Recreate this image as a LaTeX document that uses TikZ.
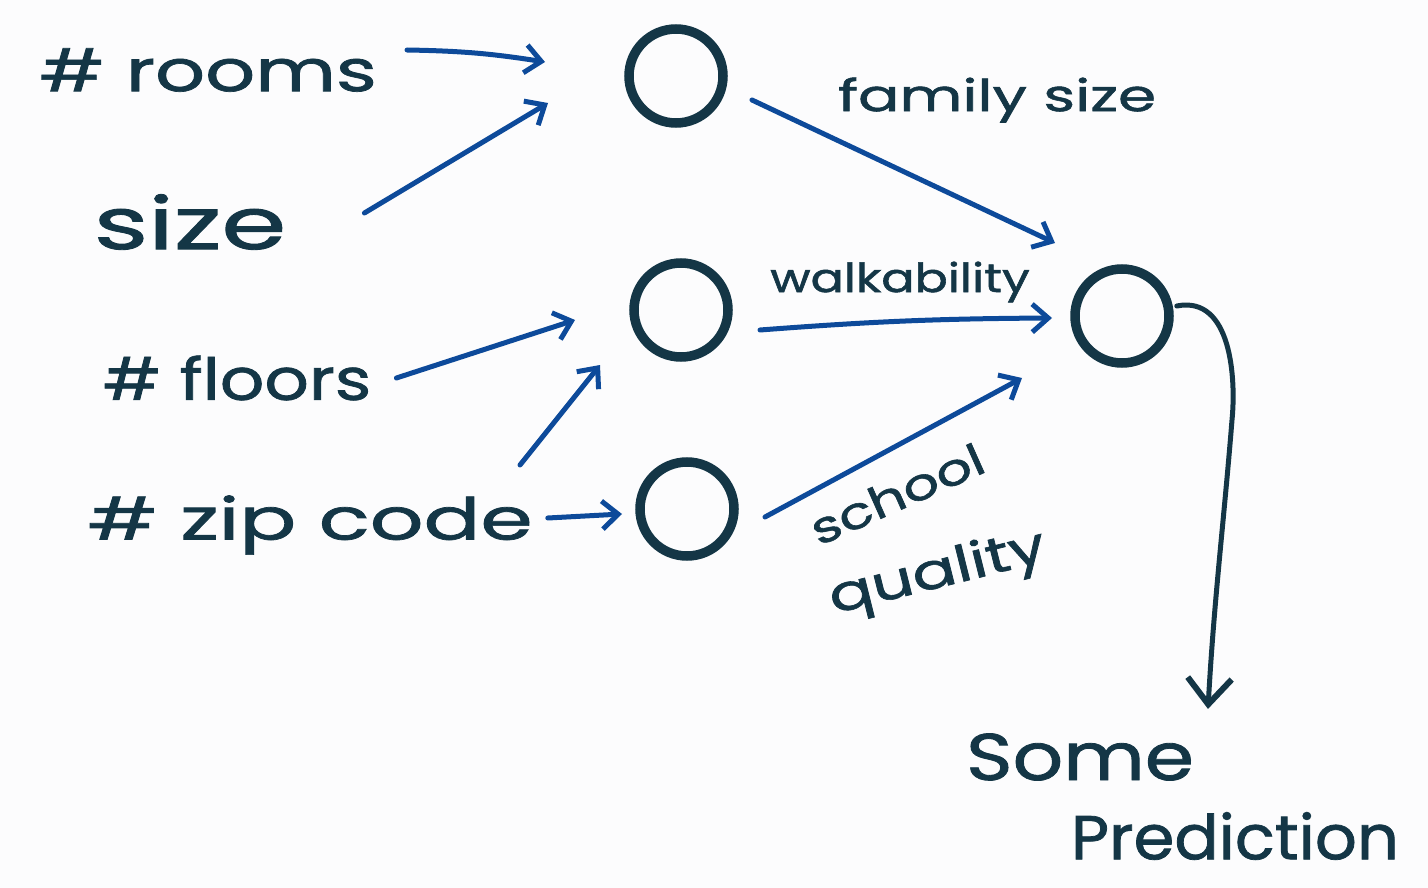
\documentclass[tikz,border=0pt]{standalone}
\usepackage{fontspec}
\setmainfont{Poppins}[FakeBold=1.2]
\usetikzlibrary{arrows.meta}
\definecolor{ink}{HTML}{143646}
\definecolor{pen}{HTML}{0D4A9A}
\definecolor{paper}{HTML}{FCFCFD}
\tikzset{
  hidden/.style={circle, draw=ink, line width=9.5pt, minimum size=94pt, inner sep=0pt},
  lbl/.style={text=ink, inner sep=0pt, font=\fontsize{58}{60}\selectfont},
  elbl/.style={text=ink, inner sep=0pt, font=\fontsize{44}{46}\selectfont},
  arr/.style={draw=pen, line width=5pt, line cap=round, -{Straight Barb[length=16pt,width=28pt,line width=5pt]}},
  outarr/.style={draw=ink, line width=5pt, line cap=round, -{Straight Barb[length=26pt,width=44pt,line width=6pt]}}
}
\begin{document}
\begin{tikzpicture}[x=1pt,y=-1pt]
\fill[paper] (0,0) rectangle (1428,888);
\useasboundingbox (0,0) rectangle (1428,888);

% hidden / output units
\node[hidden] (h1) at (676,76) {};
\node[hidden] (h2) at (681,310) {};
\node[hidden] (h3) at (687,509) {};
\node[hidden] (out) at (1122,316) {};

% input labels
\node[lbl] (rooms) at (208,70) {\scalebox{1.35}[1]{\# rooms}};
\node[lbl, font=\fontsize{72}{74}\selectfont] (size) at (190,222) {\scalebox{1.45}[1]{size}};
\node[lbl] (floors) at (237,378) {\scalebox{1.2}[1]{\# floors}};
\node[lbl] (zip) at (310,525) {\scalebox{1.45}[1]{\# zip code}};

% edge labels
\node[elbl] (fam) at (997,100) {\scalebox{1.39}[1]{family size}};
\node[elbl, font=\fontsize{40}{42}\selectfont] (walk) at (900,282) {\scalebox{1.23}[1]{walkability}};
\node[elbl, rotate=24] (school) at (897,494) {\scalebox{1.28}[1]{school}};
\node[elbl, font=\fontsize{50}{52}\selectfont, rotate=14] (quality) at (938,575) {\scalebox{1.3}[1]{quality}};

% prediction
\node[lbl, font=\fontsize{66}{68}\selectfont] (some) at (1080,757) {\scalebox{1.2}[1]{Some}};
\node[lbl, font=\fontsize{62}{64}\selectfont] (pred) at (1235,836) {\scalebox{1.06}[1]{Prediction}};

% connectors
\draw[arr] ([shift={(30,-20)}]rooms.east) to[bend left=4] ([shift={(-131,-14)}]h1.center);
\draw[arr] ([shift={(78,-9)}]size.east) -- ([shift={(-128,27)}]h1.center);
\draw[arr] ([shift={(76,24)}]h1.center) -- ([shift={(-67,-73)}]out.center);
\draw[arr] ([shift={(25,0)}]floors.east) -- ([shift={(-106,10)}]h2.center);
\draw[arr] ([shift={(210,-60)}]zip.center) -- ([shift={(-81,55)}]h2.center);
\draw[arr] ([shift={(15,-7)}]zip.east) -- ([shift={(-65,5)}]h3.center);
\draw[arr] ([shift={(79,20)}]h2.center) to[bend left=2] ([shift={(-70,2)}]out.center);
\draw[arr] ([shift={(78,8)}]h3.center) -- ([shift={(-100,62)}]out.center);
\draw[outarr] ([shift={(3,-10)}]out.east) .. controls (1232,295) and (1236,380) .. (1232,420)
  .. controls (1224,520) and (1214,600) .. ([shift={(-27,-103)}]pred.north);

\end{tikzpicture}
\end{document}
